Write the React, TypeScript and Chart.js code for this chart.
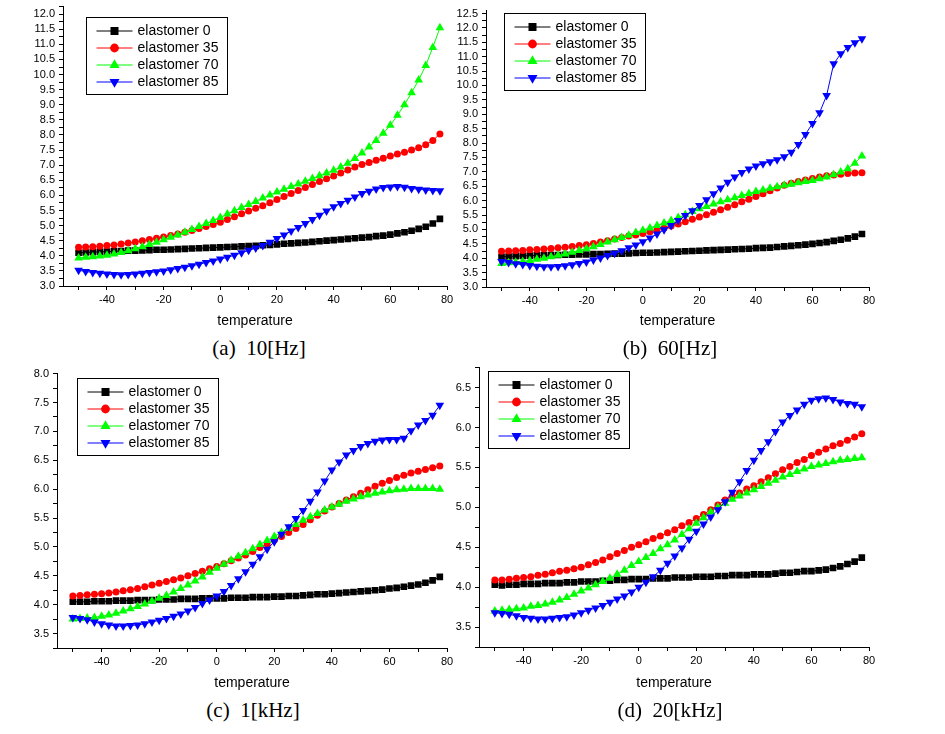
import React, { useEffect, useRef } from 'react';
import { Chart, registerables } from 'chart.js';

Chart.register(...registerables);

// ---------------- data ----------------
const TEMPS = [
  -50, -47.5, -45, -42.5, -40, -37.5, -35, -32.5, -30, -27.5,
  -25, -22.5, -20, -17.5, -15, -12.5, -10, -7.5, -5, -2.5,
  0, 2.5, 5, 7.5, 10, 12.5, 15, 17.5, 20, 22.5,
  25, 27.5, 30, 32.5, 35, 37.5, 40, 42.5, 45, 47.5,
  50, 52.5, 55, 57.5, 60, 62.5, 65, 67.5, 70, 72.5,
  75, 77.5,
];

const SERIES_LABELS = ['elastomer 0', 'elastomer 35', 'elastomer 70', 'elastomer 85'];
const X_TICK_LABELS = [-40, -20, 0, 20, 40, 60, 80];
const X_TITLE = 'temperature';

// (a) 10 Hz
const HZ10_E0 = [
  4.10, 4.11, 4.12, 4.13, 4.14, 4.15, 4.16, 4.17, 4.17, 4.18,
  4.19, 4.20, 4.20, 4.21, 4.22, 4.23, 4.24, 4.25, 4.26, 4.27,
  4.28, 4.29, 4.30, 4.31, 4.32, 4.33, 4.35, 4.36, 4.38, 4.40,
  4.41, 4.43, 4.44, 4.46, 4.48, 4.50, 4.52, 4.54, 4.56, 4.58,
  4.60, 4.62, 4.65, 4.67, 4.70, 4.74, 4.78, 4.83, 4.89, 4.96,
  5.07, 5.22,
];
const HZ10_E35 = [
  4.28, 4.29, 4.30, 4.32, 4.34, 4.36, 4.39, 4.42, 4.46, 4.50,
  4.54, 4.58, 4.62, 4.67, 4.72, 4.78, 4.84, 4.90, 4.97, 5.04,
  5.11, 5.20, 5.29, 5.39, 5.48, 5.57, 5.66, 5.76, 5.86, 5.96,
  6.06, 6.16, 6.26, 6.36, 6.46, 6.55, 6.64, 6.74, 6.84, 6.94,
  7.02, 7.09, 7.16, 7.23, 7.30, 7.37, 7.43, 7.50, 7.58, 7.68,
  7.82, 8.03,
];
const HZ10_E70 = [
  3.93, 3.95, 3.97, 3.99, 4.02, 4.06, 4.11, 4.17, 4.23, 4.30,
  4.37, 4.45, 4.53, 4.61, 4.69, 4.78, 4.87, 4.97, 5.07, 5.17,
  5.27, 5.38, 5.49, 5.60, 5.70, 5.80, 5.91, 6.01, 6.11, 6.20,
  6.29, 6.38, 6.47, 6.56, 6.65, 6.74, 6.83, 6.94, 7.06, 7.22,
  7.40, 7.60, 7.82, 8.06, 8.32, 8.65, 9.00, 9.40, 9.82, 10.30,
  10.90, 11.55,
];
const HZ10_E85 = [
  3.52, 3.48, 3.45, 3.42, 3.40, 3.38, 3.37, 3.38, 3.40, 3.42,
  3.45, 3.47, 3.50, 3.54, 3.58, 3.62, 3.67, 3.72, 3.78, 3.83,
  3.89, 3.95, 4.02, 4.10, 4.18, 4.26, 4.34, 4.45, 4.57, 4.69,
  4.82, 4.94, 5.07, 5.20, 5.34, 5.48, 5.62, 5.73, 5.84, 5.95,
  6.06, 6.14, 6.21, 6.26, 6.28, 6.29, 6.27, 6.23, 6.20, 6.18,
  6.16, 6.15,
];

// (b) 60 Hz
const HZ60_E0 = [
  4.05, 4.06, 4.07, 4.08, 4.09, 4.10, 4.10, 4.11, 4.11, 4.12,
  4.12, 4.13, 4.13, 4.14, 4.14, 4.15, 4.16, 4.16, 4.17, 4.18,
  4.19, 4.19, 4.20, 4.21, 4.22, 4.23, 4.24, 4.25, 4.26, 4.27,
  4.28, 4.29, 4.30, 4.31, 4.32, 4.33, 4.35, 4.36, 4.37, 4.39,
  4.41, 4.43, 4.45, 4.47, 4.50, 4.53, 4.56, 4.60, 4.64, 4.69,
  4.75, 4.84,
];
const HZ60_E35 = [
  4.24, 4.25, 4.26, 4.27, 4.29, 4.30, 4.32, 4.34, 4.36, 4.38,
  4.41, 4.44, 4.47, 4.51, 4.56, 4.61, 4.67, 4.72, 4.77, 4.81,
  4.86, 4.92, 4.99, 5.05, 5.12, 5.19, 5.27, 5.35, 5.43, 5.51,
  5.60, 5.68, 5.77, 5.86, 5.96, 6.05, 6.14, 6.24, 6.34, 6.44,
  6.53, 6.60, 6.66, 6.72, 6.77, 6.82, 6.86, 6.89, 6.92, 6.94,
  6.96, 6.97,
];
const HZ60_E70 = [
  3.82, 3.84, 3.86, 3.89, 3.92, 3.96, 4.00, 4.05, 4.10, 4.15,
  4.21, 4.27, 4.33, 4.40, 4.48, 4.56, 4.64, 4.72, 4.80, 4.89,
  4.97, 5.05, 5.14, 5.22, 5.31, 5.41, 5.51, 5.62, 5.72, 5.80,
  5.88, 5.96, 6.03, 6.10, 6.18, 6.25, 6.32, 6.37, 6.43, 6.48,
  6.53, 6.57, 6.62, 6.66, 6.70, 6.76, 6.82, 6.90, 6.99, 7.11,
  7.30, 7.55,
];
const HZ60_E85 = [
  3.89, 3.85, 3.81, 3.78, 3.75, 3.72, 3.70, 3.70, 3.71, 3.74,
  3.77, 3.82, 3.87, 3.94, 4.01, 4.09, 4.17, 4.26, 4.36, 4.46,
  4.57, 4.70, 4.84, 4.99, 5.14, 5.31, 5.48, 5.65, 5.83, 6.03,
  6.24, 6.44, 6.64, 6.82, 6.98, 7.10, 7.20, 7.28, 7.35, 7.42,
  7.52, 7.68, 7.95, 8.30, 8.68, 9.05, 9.65, 10.75, 11.10, 11.32,
  11.48, 11.62,
];

// (c) 1 kHz
const KHZ1_E0 = [
  4.05, 4.05, 4.05, 4.06, 4.06, 4.06, 4.07, 4.07, 4.07, 4.08,
  4.08, 4.08, 4.09, 4.09, 4.09, 4.10, 4.10, 4.10, 4.11, 4.11,
  4.11, 4.11, 4.12, 4.12, 4.12, 4.13, 4.13, 4.13, 4.14, 4.14,
  4.15, 4.15, 4.16, 4.17, 4.18, 4.18, 4.19, 4.20, 4.21, 4.22,
  4.23, 4.24, 4.25, 4.26, 4.28, 4.29, 4.31, 4.33, 4.35, 4.38,
  4.42, 4.48,
];
const KHZ1_E35 = [
  4.15, 4.16, 4.17, 4.18, 4.19, 4.20, 4.22, 4.24, 4.26, 4.28,
  4.31, 4.34, 4.37, 4.40, 4.43, 4.46, 4.50, 4.54, 4.58, 4.62,
  4.66, 4.71, 4.76, 4.81, 4.86, 4.92, 4.99, 5.05, 5.12, 5.18,
  5.25, 5.32, 5.39, 5.47, 5.55, 5.62, 5.69, 5.75, 5.81, 5.87,
  5.93, 5.99, 6.05, 6.10, 6.15, 6.20, 6.24, 6.28, 6.31, 6.34,
  6.37, 6.40,
];
const KHZ1_E70 = [
  3.75, 3.76, 3.77, 3.78, 3.80, 3.82, 3.85, 3.89, 3.93, 3.97,
  4.01, 4.06, 4.11, 4.16, 4.22, 4.28, 4.34, 4.41, 4.48, 4.56,
  4.63, 4.70, 4.77, 4.84, 4.90, 4.97, 5.04, 5.11, 5.18, 5.25,
  5.32, 5.39, 5.46, 5.52, 5.58, 5.64, 5.69, 5.74, 5.79, 5.83,
  5.87, 5.90, 5.93, 5.95, 5.97, 5.99, 6.00, 6.01, 6.01, 6.01,
  6.01, 6.00,
];
const KHZ1_E85 = [
  3.78, 3.76, 3.74, 3.70, 3.67, 3.65, 3.63, 3.63, 3.64, 3.65,
  3.67, 3.70, 3.73, 3.76, 3.80, 3.84, 3.89, 3.95, 4.02, 4.08,
  4.15, 4.23, 4.33, 4.45, 4.57, 4.70, 4.83, 4.96, 5.09, 5.22,
  5.35, 5.49, 5.63, 5.79, 5.95, 6.14, 6.33, 6.47, 6.59, 6.67,
  6.74, 6.79, 6.83, 6.85, 6.86, 6.86, 6.88, 7.01, 7.11, 7.19,
  7.28, 7.45,
];

// (d) 20 kHz
const KHZ20_E0 = [
  4.03, 4.02, 4.03, 4.03, 4.04, 4.04, 4.04, 4.05, 4.05, 4.05,
  4.06, 4.06, 4.07, 4.07, 4.07, 4.08, 4.08, 4.09, 4.09, 4.10,
  4.10, 4.10, 4.11, 4.11, 4.11, 4.12, 4.12, 4.12, 4.13, 4.13,
  4.13, 4.14, 4.14, 4.15, 4.15, 4.15, 4.16, 4.16, 4.16, 4.17,
  4.18, 4.18, 4.19, 4.20, 4.20, 4.21, 4.22, 4.24, 4.26, 4.29,
  4.32, 4.37,
];
const KHZ20_E35 = [
  4.09, 4.09, 4.10, 4.11, 4.12, 4.13, 4.15, 4.16, 4.18, 4.20,
  4.21, 4.23, 4.25, 4.28, 4.31, 4.34, 4.38, 4.42, 4.46, 4.50,
  4.53, 4.57, 4.61, 4.64, 4.68, 4.72, 4.77, 4.81, 4.86, 4.91,
  4.97, 5.03, 5.09, 5.14, 5.18, 5.23, 5.27, 5.32, 5.37, 5.42,
  5.47, 5.51, 5.56, 5.60, 5.65, 5.69, 5.73, 5.77, 5.80, 5.84,
  5.88, 5.92,
];
const KHZ20_E70 = [
  3.70, 3.71, 3.72, 3.73, 3.74, 3.76, 3.77, 3.79, 3.81, 3.84,
  3.87, 3.91, 3.95, 3.99, 4.03, 4.07, 4.11, 4.16, 4.21, 4.27,
  4.32, 4.37, 4.42, 4.48, 4.53, 4.59, 4.66, 4.73, 4.80, 4.87,
  4.94, 5.00, 5.05, 5.10, 5.14, 5.18, 5.22, 5.26, 5.30, 5.34,
  5.38, 5.41, 5.45, 5.48, 5.51, 5.53, 5.55, 5.57, 5.59, 5.60,
  5.61, 5.62,
];
const KHZ20_E85 = [
  3.68, 3.67, 3.66, 3.64, 3.62, 3.61, 3.60, 3.60, 3.61, 3.62,
  3.63, 3.65, 3.68, 3.71, 3.74, 3.77, 3.81, 3.85, 3.89, 3.94,
  4.00, 4.06, 4.13, 4.21, 4.30, 4.39, 4.49, 4.60, 4.70, 4.79,
  4.88, 4.97, 5.07, 5.19, 5.32, 5.46, 5.59, 5.71, 5.82, 5.95,
  6.07, 6.15, 6.22, 6.29, 6.34, 6.36, 6.37, 6.35, 6.32, 6.30,
  6.29, 6.26,
];

const Y_LABELS_A = [3, 3.5, 4, 4.5, 5, 5.5, 6, 6.5, 7, 7.5, 8, 8.5, 9, 9.5, 10, 10.5, 11, 11.5, 12];
const Y_LABELS_B = [3, 3.5, 4, 4.5, 5, 5.5, 6, 6.5, 7, 7.5, 8, 8.5, 9, 9.5, 10, 10.5, 11, 11.5, 12, 12.5];
const Y_LABELS_C = [3.5, 4, 4.5, 5, 5.5, 6, 6.5, 7, 7.5, 8];
const Y_LABELS_D = [3.5, 4, 4.5, 5, 5.5, 6, 6.5];

// ---------------- styling ----------------
const SANS = '"Liberation Sans", Arial, Helvetica, sans-serif';
const SERIF = '"Liberation Serif", "Times New Roman", serif';
const COLORS = ['#000000', '#ff0000', '#00ff00', '#0000ff'];
const STYLES = [
  { pointStyle: 'rect', pointRadius: 4.7, pointRotation: 0 },
  { pointStyle: 'circle', pointRadius: 3.5, pointRotation: 0 },
  { pointStyle: 'triangle', pointRadius: 5, pointRotation: 0 },
  { pointStyle: 'triangle', pointRadius: 5, pointRotation: 180 },
];

function drawMarker(ctx: CanvasRenderingContext2D, idx: number, x: number, y: number, color: string) {
  ctx.fillStyle = color;
  ctx.beginPath();
  if (idx === 0) {
    ctx.rect(x - 4, y - 4, 8, 8);
  } else if (idx === 1) {
    ctx.arc(x, y, 4.4, 0, Math.PI * 2);
  } else if (idx === 2) {
    const r = 5.8;
    ctx.moveTo(x, y - r);
    ctx.lineTo(x + r * 0.866, y + r * 0.5);
    ctx.lineTo(x - r * 0.866, y + r * 0.5);
    ctx.closePath();
  } else {
    const r = 5.8;
    ctx.moveTo(x, y + r);
    ctx.lineTo(x + r * 0.866, y - r * 0.5);
    ctx.lineTo(x - r * 0.866, y - r * 0.5);
    ctx.closePath();
  }
  ctx.fill();
}

const boxLegend = {
  id: 'boxLegend',
  afterDatasetsDraw(chart: any, _args: any, opts: any) {
    const ctx: CanvasRenderingContext2D = chart.ctx;
    const x = Math.round(opts.x) + 0.5;
    const y = Math.round(opts.y) + 0.5;
    const w = 141;
    const h = 77;
    ctx.save();
    ctx.fillStyle = '#ffffff';
    ctx.fillRect(x, y, w, h);
    ctx.strokeStyle = '#000000';
    ctx.lineWidth = 1;
    ctx.strokeRect(x, y, w, h);
    chart.data.datasets.forEach((ds: any, i: number) => {
      const ry = y + 13.5 + i * 17;
      ctx.strokeStyle = ds.borderColor;
      ctx.lineWidth = 1;
      ctx.beginPath();
      ctx.moveTo(x + 10, ry);
      ctx.lineTo(x + 46, ry);
      ctx.stroke();
      drawMarker(ctx, i, x + 28, ry, ds.borderColor);
      ctx.fillStyle = '#000000';
      ctx.font = `14px ${SANS}`;
      ctx.textBaseline = 'middle';
      ctx.textAlign = 'left';
      ctx.fillText(ds.label, x + 51, ry + 0.5);
    });
    ctx.restore();
  },
};

type PanelCfg = {
  caption: string;
  series: number[][];
  yMin: number;
  yMax: number;
  yLabels: number[];
  canvas: { left: number; top: number; width: number; height: number };
  yw: number;
  xh: number;
  padTop: number;
  padRight: number;
  legend: { x: number; y: number };
  captionPos: { x: number; y: number };
};

const PANELS: PanelCfg[] = [
  {
    caption: '(a)  10[Hz]',
    series: [HZ10_E0, HZ10_E35, HZ10_E70, HZ10_E85],
    yMin: 3, yMax: 12.25, yLabels: Y_LABELS_A,
    canvas: { left: 13, top: -4, width: 454, height: 334 },
    yw: 50, xh: 44, padTop: 10, padRight: 20,
    legend: { x: 86, y: 17 },
    captionPos: { x: 259, y: 348 },
  },
  {
    caption: '(b)  60[Hz]',
    series: [HZ60_E0, HZ60_E35, HZ60_E70, HZ60_E85],
    yMin: 3, yMax: 12.6, yLabels: Y_LABELS_B,
    canvas: { left: 436, top: 0, width: 453, height: 330 },
    yw: 50, xh: 43, padTop: 10, padRight: 20,
    legend: { x: 504, y: 13 },
    captionPos: { x: 670, y: 348 },
  },
  {
    caption: '(c)  1[kHz]',
    series: [KHZ1_E0, KHZ1_E35, KHZ1_E70, KHZ1_E85],
    yMin: 3.25, yMax: 8, yLabels: Y_LABELS_C,
    canvas: { left: 7, top: 363, width: 460, height: 329 },
    yw: 50, xh: 44, padTop: 10, padRight: 20,
    legend: { x: 77, y: 378 },
    captionPos: { x: 253, y: 710 },
  },
  {
    caption: '(d)  20[kHz]',
    series: [KHZ20_E0, KHZ20_E35, KHZ20_E70, KHZ20_E85],
    yMin: 3.25, yMax: 6.75, yLabels: Y_LABELS_D,
    canvas: { left: 429, top: 357, width: 460, height: 335 },
    yw: 50, xh: 45, padTop: 10, padRight: 20,
    legend: { x: 488, y: 371 },
    captionPos: { x: 670, y: 710 },
  },
];

function Panel({ cfg }: { cfg: PanelCfg }) {
  const ref = useRef<HTMLCanvasElement>(null);
  useEffect(() => {
    const canvas = ref.current;
    if (!canvas) return;
    const datasets = cfg.series.map((arr, i) => ({
      label: SERIES_LABELS[i],
      data: TEMPS.map((t, k) => ({ x: t, y: arr[k] })),
      borderColor: COLORS[i],
      backgroundColor: COLORS[i],
      borderWidth: 1,
      pointStyle: STYLES[i].pointStyle,
      pointRadius: STYLES[i].pointRadius,
      pointRotation: STYLES[i].pointRotation,
      pointBackgroundColor: COLORS[i],
      pointBorderColor: COLORS[i],
      pointBorderWidth: 0,
      tension: 0,
      order: 3 - i,
    }));
    const tickFont = { family: SANS, size: 11 };
    const chart = new Chart(canvas, {
      type: 'line',
      data: { datasets },
      plugins: [boxLegend],
      options: {
        animation: false,
        responsive: false,
        devicePixelRatio: 1,
        events: [],
        layout: { padding: { left: 0, top: cfg.padTop, right: cfg.padRight, bottom: 0 } },
        plugins: {
          legend: { display: false },
          tooltip: { enabled: false },
          title: { display: false },
          boxLegend: {
            x: cfg.legend.x - cfg.canvas.left,
            y: cfg.legend.y - cfg.canvas.top,
          },
        } as any,
        scales: {
          x: {
            type: 'linear',
            min: -55.5,
            max: 80,
            afterFit: (s: any) => { s.height = cfg.xh; },
            border: { display: true, color: '#000', width: 1 },
            grid: {
              display: true,
              drawOnChartArea: false,
              drawTicks: true,
              tickLength: 4,
              tickColor: '#000',
              tickWidth: 1,
            },
            ticks: {
              stepSize: 10,
              includeBounds: false,
              autoSkip: false,
              maxRotation: 0,
              padding: 3,
              color: '#000',
              font: tickFont,
              callback: (v: any) => (X_TICK_LABELS.includes(Number(v)) ? String(v) : ''),
            },
            title: {
              display: true,
              text: X_TITLE,
              color: '#000',
              font: { family: SANS, size: 14 },
              padding: { top: 0, bottom: 0 },
            },
          },
          y: {
            type: 'linear',
            min: cfg.yMin,
            max: cfg.yMax,
            afterFit: (s: any) => { s.width = cfg.yw; },
            border: { display: true, color: '#000', width: 1 },
            grid: {
              display: true,
              drawOnChartArea: false,
              drawTicks: true,
              tickLength: 4,
              tickColor: '#000',
              tickWidth: 1,
            },
            ticks: {
              stepSize: 0.25,
              includeBounds: false,
              autoSkip: false,
              padding: 4,
              color: '#000',
              font: tickFont,
              callback: (v: any) => {
                const n = Number(v);
                return cfg.yLabels.some((l) => Math.abs(l - n) < 1e-6) ? n.toFixed(1) : '';
              },
            },
          },
        },
      } as any,
    });
    return () => chart.destroy();
  }, [cfg]);

  const c = cfg.canvas;
  return (
    <>
      <canvas
        ref={ref}
        width={c.width}
        height={c.height}
        style={{ position: 'absolute', left: c.left, top: c.top, width: c.width, height: c.height }}
      />
      <div
        style={{
          position: 'absolute',
          left: cfg.captionPos.x - 120,
          top: cfg.captionPos.y - 13,
          width: 240,
          height: 26,
          lineHeight: '26px',
          textAlign: 'center',
          fontFamily: SERIF,
          fontSize: 21,
          color: '#000',
          whiteSpace: 'pre',
        }}
      >
        {cfg.caption}
      </div>
    </>
  );
}

export default function App() {
  return (
    <div
      style={{
        position: 'fixed',
        left: 0,
        top: 0,
        width: 945,
        height: 734,
        background: '#ffffff',
        overflow: 'hidden',
      }}
    >
      {PANELS.map((p) => (
        <Panel key={p.caption} cfg={p} />
      ))}
    </div>
  );
}
